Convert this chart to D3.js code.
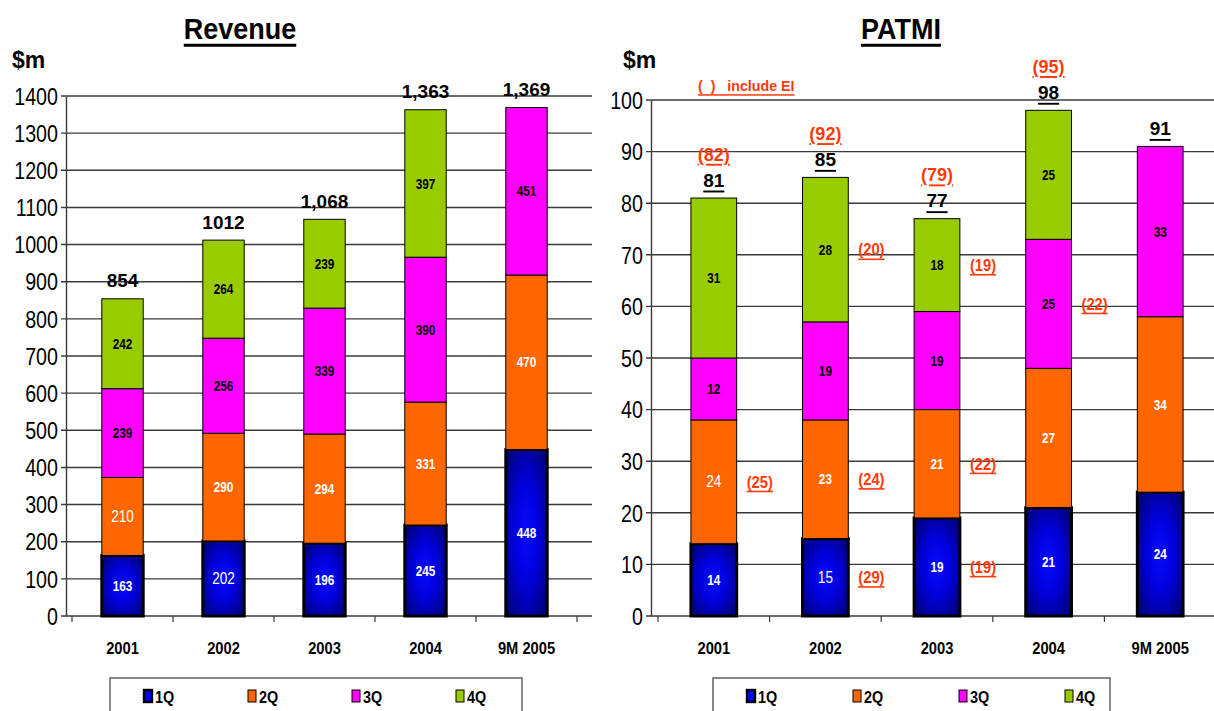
<!DOCTYPE html>
<html>
<head>
<meta charset="utf-8">
<script src="https://cdn.jsdelivr.net/npm/d3@7"></script>
<style>
  html, body { margin: 0; padding: 0; background: #fff; }
  svg { display: block; font-family: "Liberation Sans", Arial, sans-serif; }
</style>
</head>
<body>
<svg id="chart" width="1214" height="711"></svg>
<script>
// ---------------- DATA ----------------
const years = ["2001", "2002", "2003", "2004", "9M 2005"];
const quarters = ["1Q", "2Q", "3Q", "4Q"];

const revenue1Q = [163, 202, 196, 245, 448];
const revenue2Q = [210, 290, 294, 331, 470];
const revenue3Q = [239, 256, 339, 390, 451];
const revenue4Q = [242, 264, 239, 397, null];
const revenueTotals = ["854", "1012", "1,068", "1,363", "1,369"];
const revenueTicks = [0, 100, 200, 300, 400, 500, 600, 700, 800, 900, 1000, 1100, 1200, 1300, 1400];

const patmi1Q = [14, 15, 19, 21, 24];
const patmi2Q = [24, 23, 21, 27, 34];
const patmi3Q = [12, 19, 19, 25, 33];
const patmi4Q = [31, 28, 18, 25, null];
const patmiTotals = ["81", "85", "77", "98", "91"];
const patmiTicks = [0, 10, 20, 30, 40, 50, 60, 70, 80, 90, 100];

// PATMI including exceptional items (EI)
const eiTotals = ["(82)", "(92)", "(79)", "(95)", null];
const eiQuarterYear = ["2001", "2002", "2002", "2002", "2003", "2003", "2003", "2004"];
const eiQuarterName = ["2Q", "4Q", "2Q", "1Q", "4Q", "2Q", "1Q", "3Q"];
const eiQuarterText = ["(25)", "(20)", "(24)", "(29)", "(19)", "(22)", "(19)", "(22)"];

// ---------------- STYLE ----------------
const colors = { "1Q": "#0000ff", "2Q": "#ff6600", "3Q": "#ff00ff", "4Q": "#99cc00" };
const labelFill = { "1Q": "#fff", "2Q": "#fff", "3Q": "#000", "4Q": "#000" };
const plainLabels = new Set(["rev|2002|1Q", "rev|2001|2Q", "pat|2002|1Q", "pat|2001|2Q"]);
const red = "#ff3a0a";

const svg = d3.select("#chart");
const defs = svg.append("defs");
const grad = defs.append("radialGradient").attr("id", "blueGrad")
  .attr("cx", "50%").attr("cy", "50%").attr("r", "65%");
grad.append("stop").attr("offset", "0%").attr("stop-color", "#0a0aff");
grad.append("stop").attr("offset", "45%").attr("stop-color", "#0000dd");
grad.append("stop").attr("offset", "100%").attr("stop-color", "#00007a");

function txt(parent, x, y, s, o) {
  const t = parent.append("text")
    .attr("transform", `translate(${x},${y}) scale(${o.sx || 1},1)`)
    .attr("text-anchor", o.anchor || "middle")
    .attr("dominant-baseline", o.baseline || "central")
    .attr("font-size", o.size)
    .attr("font-weight", o.weight || "normal")
    .attr("fill", o.fill || "#000")
    .style("white-space", "pre")
    .text(s);
  if (o.underline) t.attr("text-decoration", "underline");
  return t;
}

function buildRows(q1, q2, q3, q4) {
  return years.map((y, i) => ({ year: y, "1Q": q1[i], "2Q": q2[i], "3Q": q3[i], "4Q": q4[i] || 0 }));
}

function drawPanel(cfg) {
  const g = svg.append("g");
  const x = d3.scaleBand().domain(years).range([cfg.bandL, cfg.bandR]).paddingInner(0.59).paddingOuter(0.295);
  const y = d3.scaleLinear().domain([0, cfg.max]).range([616, cfg.top]);

  // gridlines
  g.append("g").selectAll("line").data(cfg.ticks).join("line")
    .attr("x1", cfg.axisX - 5).attr("x2", cfg.gridR)
    .attr("y1", d => y(d)).attr("y2", d => y(d))
    .attr("stroke", "#3a3a3a").attr("stroke-width", 1.4);

  // y axis
  const ya = g.append("g").attr("transform", `translate(${cfg.axisX},0)`)
    .call(d3.axisLeft(y).tickValues(cfg.ticks).tickSize(0).tickPadding(0));
  ya.select(".domain").attr("stroke", "#3a3a3a").attr("stroke-width", 1.4);
  ya.selectAll(".tick text").remove();
  ya.selectAll(".tick").each(function (d) {
    txt(d3.select(this), -8, 0, String(d), { size: 24, anchor: "end", sx: 0.82 });
  });

  // x axis
  const xa = g.append("g").attr("transform", `translate(0,616)`)
    .call(d3.axisBottom(x).tickSize(0).tickPadding(0));
  xa.select(".domain").remove();
  xa.selectAll(".tick text").remove();
  xa.selectAll(".tick").each(function (d) {
    txt(d3.select(this), 0, 32, d, { size: 16, weight: "bold", sx: 0.92 });
  });
  const edges = years.map(yv => x(yv) - x.step() * x.paddingInner() / 2);
  edges.push(cfg.bandR);
  g.append("g").selectAll("line").data(edges).join("line")
    .attr("x1", d => d).attr("x2", d => d).attr("y1", 616).attr("y2", 622)
    .attr("stroke", "#3a3a3a").attr("stroke-width", 1.2);

  // stacks
  const rows = buildRows(...cfg.series);
  const stack = d3.stack().keys(quarters)(rows);
  stack.forEach(layer => {
    const q = layer.key;
    const lg = g.append("g");
    layer.forEach((seg, i) => {
      const v = seg[1] - seg[0];
      if (!v) return;
      const yr = years[i];
      lg.append("rect")
        .attr("x", x(yr)).attr("width", x.bandwidth())
        .attr("y", y(seg[1])).attr("height", y(seg[0]) - y(seg[1]))
        .attr("fill", q === "1Q" ? "url(#blueGrad)" : colors[q])
        .attr("stroke", "#000")
        .attr("stroke-width", q === "1Q" ? 3 : 1);
      const plain = plainLabels.has(`${cfg.id}|${yr}|${q}`);
      txt(lg, x(yr) + x.bandwidth() / 2, (y(seg[0]) + y(seg[1])) / 2, String(v), {
        size: plain ? 16 : 15.5, weight: plain ? "normal" : "bold", fill: labelFill[q], sx: plain ? 0.85 : 0.76
      });
    });
  });
  const topLayer = stack[stack.length - 1];
  topLayer.forEach((seg, i) => {
    txt(g, x(years[i]) + x.bandwidth() / 2, y(seg[1]) - cfg.totalGap, cfg.totals[i], {
      size: cfg.totalSize, weight: "bold", underline: cfg.totalUnderline
    });
  });

  // title
  txt(svg, cfg.titleX, 28, cfg.title, { size: 30, weight: "bold", underline: true, sx: 0.9 });
  txt(svg, cfg.unitX, 60, "$m", { size: 23, weight: "bold", anchor: "start" });

  // legend
  const lgd = svg.append("g");
  lgd.append("rect").attr("x", cfg.legL).attr("y", 678).attr("width", cfg.legW).attr("height", 60)
    .attr("fill", "#fff").attr("stroke", "#555").attr("stroke-width", 1.4);
  quarters.forEach((q, i) => {
    const lx = cfg.legL + 34 + i * cfg.legStep;
    lgd.append("rect").attr("x", lx).attr("y", 690).attr("width", 8).attr("height", 12)
      .attr("fill", colors[q]).attr("stroke", "#000").attr("stroke-width", q === "1Q" ? 2.4 : 1);
    txt(lgd, lx + 11, 697, q, { size: 16, weight: "bold", anchor: "start", sx: 0.9 });
  });

  return { x, y, stack, g };
}

const rev = drawPanel({
  id: "rev", title: "Revenue", titleX: 240, unitX: 12,
  axisX: 66, bandL: 72, bandR: 577, gridR: 592, top: 96, max: 1400,
  ticks: revenueTicks, series: [revenue1Q, revenue2Q, revenue3Q, revenue4Q],
  totals: revenueTotals, totalGap: 18, totalSize: 19, totalUnderline: false,
  legL: 110, legW: 412, legStep: 104
});

const pat = drawPanel({
  id: "pat", title: "PATMI", titleX: 901, unitX: 623,
  axisX: 651, bandL: 658, bandR: 1216, gridR: 1214, top: 100, max: 100,
  ticks: patmiTicks, series: [patmi1Q, patmi2Q, patmi3Q, patmi4Q],
  totals: patmiTotals, totalGap: 18, totalSize: 19, totalUnderline: true,
  legL: 713, legW: 397, legStep: 106
});

// EI annotations on PATMI
txt(svg, 698, 86, "(  )   include EI", { size: 15, weight: "bold", anchor: "start", fill: red, underline: true, sx: 0.95 });
const patTop = pat.stack[pat.stack.length - 1];
eiTotals.forEach((s, i) => {
  if (!s) return;
  txt(pat.g, pat.x(years[i]) + pat.x.bandwidth() / 2, pat.y(patTop[i][1]) - 18 - 26, s, {
    size: 19, weight: "bold", fill: red, underline: true, sx: 0.95
  });
});
eiQuarterText.forEach((s, k) => {
  const i = years.indexOf(eiQuarterYear[k]);
  const layer = pat.stack[quarters.indexOf(eiQuarterName[k])];
  const seg = layer[i];
  txt(pat.g, pat.x(years[i]) + pat.x.bandwidth() / 2 + 46, (pat.y(seg[0]) + pat.y(seg[1])) / 2, s, {
    size: 16, weight: "bold", fill: red, underline: true, sx: 0.92
  });
});
</script>
</body>
</html>
